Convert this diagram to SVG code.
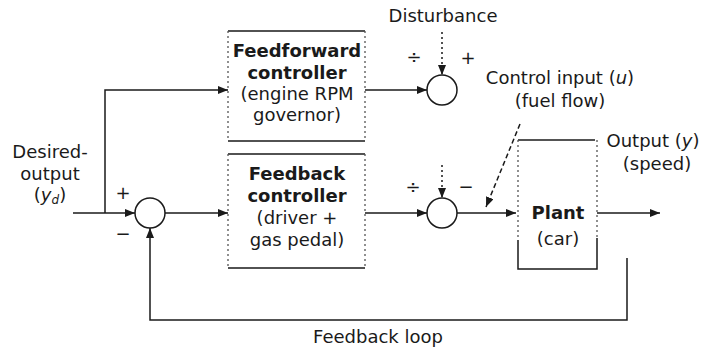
<svg xmlns="http://www.w3.org/2000/svg" width="705" height="350" viewBox="0 0 705 350">
  <style>
    text { font-family: "DejaVu Sans", "Liberation Sans", sans-serif; font-size: 18px; fill: #1a1a1a; }
    .b { font-weight: bold; }
    .mid { text-anchor: middle; }
    .edge { fill: none; stroke: #1a1a1a; stroke-width: 1.5; }
    .side { fill: none; stroke: #555; stroke-width: 1.3; stroke-dasharray: 2 3; }
    .wire { fill: none; stroke: #1a1a1a; stroke-width: 1.5; }
    .dot { stroke-dasharray: 2 3; }
    .dash { stroke-dasharray: 5 3; }
    .sum { fill: #fff; stroke: #1a1a1a; stroke-width: 1.5; }
  </style>
  <defs>
    <marker id="arrow" viewBox="0 0 10 8" refX="10" refY="4" markerWidth="10" markerHeight="8" markerUnits="userSpaceOnUse" orient="auto">
      <path d="M0,0 L10,4 L0,8 Z" fill="#1a1a1a"/>
    </marker>
  </defs>

  <!-- labels -->
  <g id="desired-output">
    <text x="50" y="158" class="mid">Desired-</text>
    <text x="50" y="180" class="mid">output</text>
    <text x="50" y="201" class="mid">(<tspan font-style="italic">y<tspan font-size="12" dy="3">d</tspan></tspan><tspan dy="-3">)</tspan></text>
  </g>
  <g id="disturbance">
    <text x="443" y="22" class="mid">Disturbance</text>
  </g>
  <g id="control-input">
    <text x="560" y="84" class="mid">Control input (<tspan font-style="italic">u</tspan>)</text>
    <text x="560" y="107" class="mid">(fuel flow)</text>
  </g>
  <g id="output">
    <line x1="518" y1="140" x2="595" y2="140" class="edge"/>
    <text x="653" y="147" class="mid">Output (<tspan font-style="italic">y</tspan>)</text>
    <text x="657" y="170" class="mid">(speed)</text>
  </g>

  <!-- feedforward controller -->
  <g id="feedforward-controller">
    <path d="M228,31 H365 M228,141 H365" class="edge"/>
    <path d="M228,31 V141 M365,31 V141" class="side"/>
    <text x="297" y="57" class="b mid">Feedforward</text>
    <text x="297" y="79" class="b mid">controller</text>
    <text x="297" y="100" class="mid">(engine RPM</text>
    <text x="297" y="121" class="mid">governor)</text>
  </g>

  <!-- feedback controller -->
  <g id="feedback-controller">
    <path d="M228,154 H365 M228,268 H365" class="edge"/>
    <path d="M228,154 V268 M365,154 V268" class="side"/>
    <text x="297" y="180" class="b mid">Feedback</text>
    <text x="297" y="202" class="b mid">controller</text>
    <text x="297" y="224" class="mid">(driver +</text>
    <text x="297" y="246" class="mid">gas pedal)</text>
  </g>

  <!-- plant: top edge is the line under the output label -->
  <g id="plant">
    <path d="M518,240 V269 H597 V238" class="edge"/>
    <path d="M518,140 V240 M597,140 V238" class="side"/>
    <text x="558" y="219" class="b mid">Plant</text>
    <text x="558" y="245" class="mid">(car)</text>
  </g>

  <!-- summing junctions -->
  <g id="sum-error">
    <circle cx="150" cy="213" r="15" class="sum"/>
    <text x="123" y="199" class="mid">+</text>
    <text x="123" y="240" class="mid">−</text>
  </g>
  <g id="sum-feedforward">
    <circle cx="442" cy="90" r="15" class="sum"/>
    <text x="414" y="63" class="mid">÷</text>
    <text x="468" y="64" class="mid">+</text>
  </g>
  <g id="sum-control">
    <circle cx="442" cy="213" r="15" class="sum"/>
    <text x="413" y="193" class="mid">÷</text>
    <text x="466" y="193" class="mid">−</text>
  </g>

  <!-- connectors -->
  <g id="connectors">
    <path d="M73,213 H135" class="wire" marker-end="url(#arrow)"/>
    <path d="M105,213 V90 H228" class="wire" marker-end="url(#arrow)"/>
    <path d="M165,213 H228" class="wire" marker-end="url(#arrow)"/>
    <path d="M365,90 H427" class="wire" marker-end="url(#arrow)"/>
    <path d="M442,32 V75" class="wire dot" marker-end="url(#arrow)"/>
    <path d="M365,213 H427" class="wire" marker-end="url(#arrow)"/>
    <path d="M442,165 V198" class="wire dot" marker-end="url(#arrow)"/>
    <path d="M457,213 H516" class="wire" marker-end="url(#arrow)"/>
    <path d="M520,124 L486,207" class="wire dash" marker-end="url(#arrow)"/>
    <path d="M597,213 H660" class="wire" marker-end="url(#arrow)"/>
    <path d="M627,258 V320 H150 V228" class="wire" marker-end="url(#arrow)"/>
  </g>

  <g id="feedback-loop-label">
    <text x="378" y="343" class="mid" font-size="20">Feedback loop</text>
  </g>
</svg>
